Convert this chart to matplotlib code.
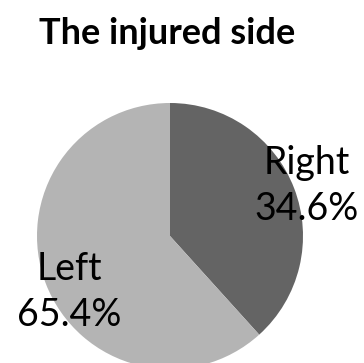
import matplotlib
matplotlib.use("Agg")
import matplotlib.pyplot as plt

# Data
sides = ["Right", "Left"]
share_drawn = [38.3, 61.7]          # wedge sizes as drawn in the reference
pct_labels = ["34.6%", "65.4%"]     # percentages printed on the chart
colors = ["#646464", "#b4b4b4"]
title = "The injured side"

plt.rcParams["font.family"] = ["Lato", "DejaVu Sans"]

W, H = 364, 363
fig = plt.figure(figsize=(W / 100, H / 100), dpi=100)
ax = fig.add_axes([0, 0, 1, 1])

# pie centre / radius in pixel units
cx, cy, r = 170, H - 236, 133
ax.pie(share_drawn, colors=colors, startangle=90, counterclock=False,
       center=(cx, cy), radius=r, frame=True,
       wedgeprops=dict(linewidth=0))
ax.set_xlim(0, W)
ax.set_ylim(0, H)
ax.set_aspect("equal")
ax.axis("off")

# data labels
label_pos = [(307, H - 186), (69, H - 292)]
for side, pct, (x, y) in zip(sides, pct_labels, label_pos):
    ax.text(x, y, f"{side}\n{pct}", ha="center", va="center",
            fontsize=27, color="black", linespacing=1.35)

fig.text(167 / W, 1 - 33 / H, title, ha="center", va="center",
         fontsize=26, fontweight="bold", color="black")

fig.savefig("out.png", dpi=100, facecolor="white")
